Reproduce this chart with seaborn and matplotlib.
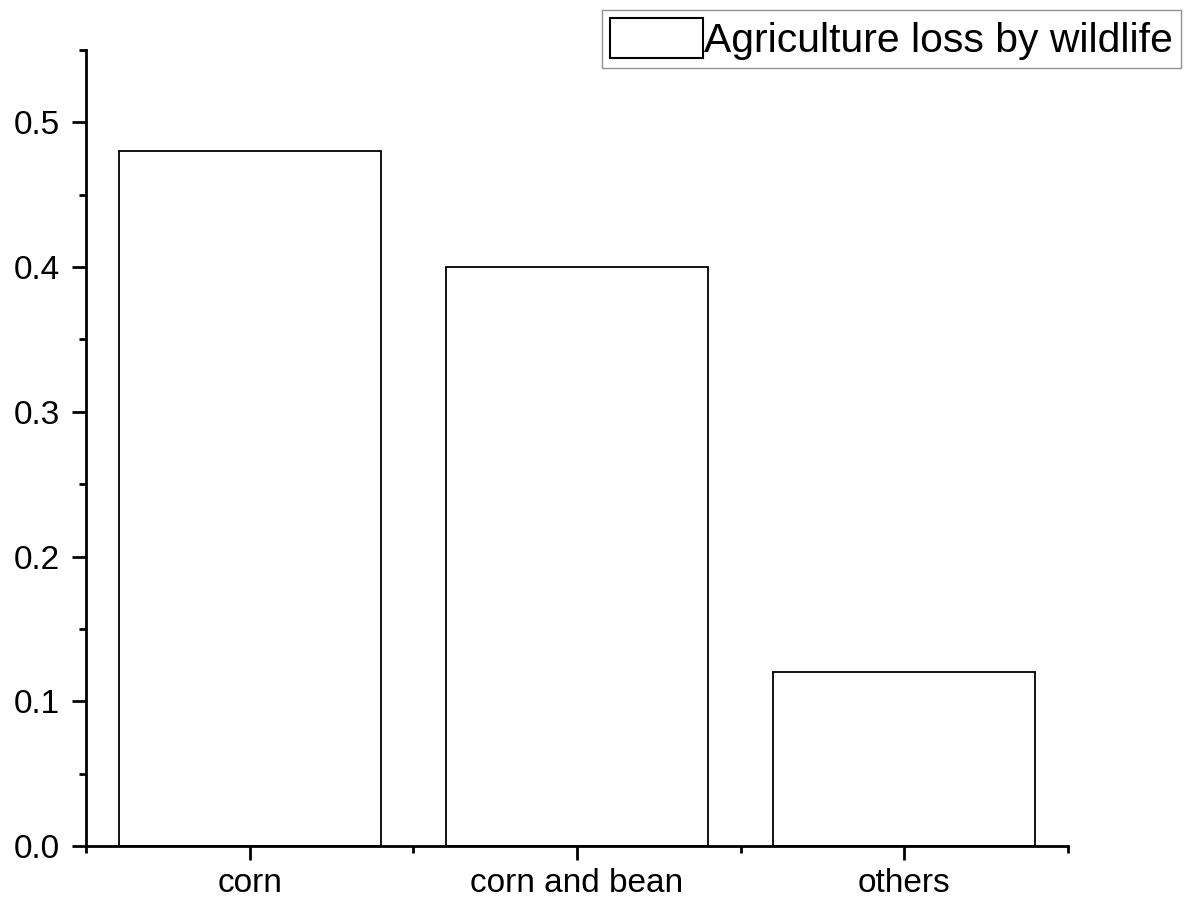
import pandas as pd
import seaborn as sns
import matplotlib.pyplot as plt
from matplotlib.ticker import MultipleLocator, FixedLocator

crops = ["corn", "corn and bean", "others"]
loss = [0.48, 0.40, 0.12]
series_name = "Agriculture loss by wildlife"

df = pd.DataFrame({"crop": crops, "loss": loss})

sns.set_style("ticks")
plt.rcParams["font.family"] = ["Liberation Sans", "DejaVu Sans"]
plt.rcParams["text.color"] = "black"
plt.rcParams["xtick.color"] = "black"
plt.rcParams["ytick.color"] = "black"
plt.rcParams["xtick.labelcolor"] = "black"
plt.rcParams["ytick.labelcolor"] = "black"
plt.rcParams["axes.edgecolor"] = "black"

fig = plt.figure(figsize=(11.91, 8.99), dpi=100)
ax = fig.add_axes([0.0722, 0.059, 0.8245, 0.8854])

sns.barplot(data=df, x="crop", y="loss", color="white", edgecolor="black",
            linewidth=1.3, width=0.8, saturation=1, label=series_name, ax=ax)
if ax.get_legend() is not None:
    ax.get_legend().remove()

ax.set_xlim(-0.5, 2.5)
ax.set_ylim(0, 0.55)
ax.yaxis.set_major_locator(MultipleLocator(0.1))
ax.yaxis.set_minor_locator(MultipleLocator(0.05))
ax.yaxis.set_major_formatter(plt.FuncFormatter(lambda v, p: f"{v:.1f}"))
ax.xaxis.set_minor_locator(FixedLocator([-0.5, 0.5, 1.5, 2.5]))

for s in ["top", "right"]:
    ax.spines[s].set_visible(False)
for s in ["left", "bottom"]:
    ax.spines[s].set_linewidth(2.0)

ax.tick_params(axis="both", which="major", labelsize=24, width=2.0, color="black")
ax.tick_params(axis="y", which="major", length=10, pad=9)
ax.tick_params(axis="x", which="major", length=10, pad=6)
ax.tick_params(axis="both", which="minor", length=5, width=2.0, color="black")
ax.set_xlabel("")
ax.set_ylabel("")

handles, labels = ax.get_legend_handles_labels()
leg = fig.legend(handles, labels, loc="upper right",
                 bbox_to_anchor=(1181 / 1191, 1 - 10 / 899),
                 fontsize=29.4, frameon=True, fancybox=False, edgecolor="#777777",
                 borderpad=0.2, handlelength=2.27, handleheight=1.12, handletextpad=0.02,
                 borderaxespad=0)
leg.get_frame().set_linewidth(1.0)
for h in leg.legend_handles:
    h.set_edgecolor("black")
    h.set_linewidth(1.5)

fig.savefig("out.png", dpi=100)
